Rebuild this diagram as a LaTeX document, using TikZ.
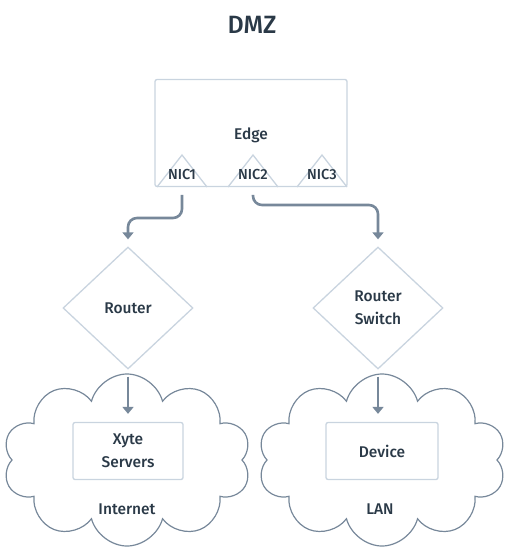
\documentclass[tikz,border=0pt]{standalone}
\usepackage{fontspec}
\setmainfont{Fira Sans}[UprightFont=* Medium]
\usetikzlibrary{positioning,arrows.meta,shapes.geometric,shapes.symbols}
\definecolor{inkc}{HTML}{2A3947}
\definecolor{pale}{HTML}{C9D4DF}
\definecolor{wire}{HTML}{77889A}
\tikzset{>={Triangle[width=11pt,length=7pt]}}

\begin{document}
\begin{tikzpicture}[x=1pt,y=-1pt,
  every node/.style={text=inkc,font=\fontsize{15.5}{23}\selectfont},
  hostbox/.style={draw=pale,line width=1.3pt,rounded corners=2pt,align=center},
  rtr/.style={diamond,draw=pale,line width=1.3pt,minimum width=130pt,minimum height=122pt,align=center,inner sep=0pt},
  net/.style={cloud,draw=wire,line width=1.2pt,cloud puffs=10,minimum width=248pt,minimum height=172pt},
  link/.style={->,draw=wire,line width=2.6pt,rounded corners=9pt}]
	\useasboundingbox (0,0) rectangle (508,553);
	
	\node(dmz) at (252,25) [font=\fontsize{25}{28}\selectfont] {DMZ};
	
	\node(edge) [hostbox,minimum width=192pt,minimum height=107pt] at (251,133) {};
	\node(edgelbl) at (251,135) {Edge};
	\foreach \n/\x in {1/182,2/253,3/322} {
		\draw[pale,line width=1.3pt] (\x-25,187) -- (\x,155) -- (\x+25,187);
		\node(nic\n) at (\x,174) [font=\fontsize{14.5}{15}\selectfont] {NIC\n};
	}
	
	\node(router) [rtr] at (128,308) {Router};
	\node(switch) [rtr] at (378,308) {Router\\Switch};
	
	\coordinate(out1) at (182,195);
	\coordinate(out2) at (253,195);
	\draw[link,shorten >=7pt] (out1) -- ++(0,23) -| (router.north);
	\draw[link,shorten >=7pt] (out2) -- ++(0,10) -| (switch.north);
	
	% clouds
	\node(inet) [net] at (127,460) {};
	\node(lan) [net] at (382,460) {};
	\node(inetlbl) at (127,509) {Internet};
	\node(lanlbl) at (380,509) {LAN};
	
	\node(xyte) [hostbox,minimum width=110pt,minimum height=57pt] at (128,451) {Xyte\\Servers};
	\node(dev) [hostbox,minimum width=112pt,minimum height=57pt] at (382,451) {Device};
	
	\draw[link,shorten <=7pt,shorten >=8pt] (router.south) -- (xyte.north);
	\draw[link,shorten <=7pt,shorten >=8pt] (switch.south) -- (switch.south |- dev.north);
\end{tikzpicture}
\end{document}
